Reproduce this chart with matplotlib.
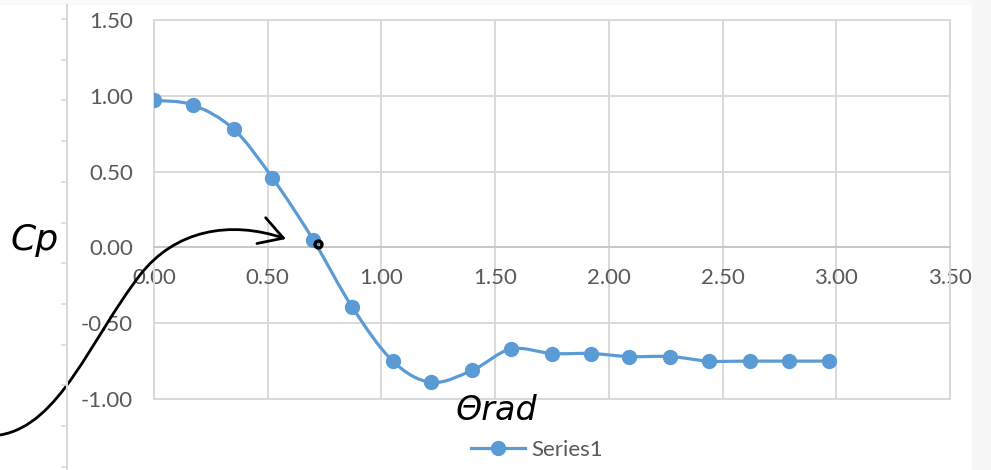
import numpy as np
import matplotlib
matplotlib.use("Agg")
import matplotlib.pyplot as plt
from matplotlib.path import Path
from matplotlib.patches import FancyArrowPatch, Rectangle, PathPatch

# -----------------------------
# Dados
# -----------------------------
theta = [0.00, 0.17, 0.35, 0.52, 0.70, 0.87, 1.05, 1.22, 1.40,
         1.57, 1.75, 1.92, 2.09, 2.27, 2.44, 2.62, 2.79, 2.97]
cp = [0.97, 0.94, 0.78, 0.46, 0.05, -0.39, -0.75, -0.89, -0.81,
      -0.67, -0.70, -0.70, -0.72, -0.72, -0.75, -0.75, -0.75, -0.75]
x_ticks = [0.0, 0.5, 1.0, 1.5, 2.0, 2.5, 3.0, 3.5]
y_ticks = [-1.0, -0.5, 0.0, 0.5, 1.0, 1.5]
series_name = "Series1"

BLUE = "#5b9bd5"
GRID = "#d9d9d9"
TXT = "#595959"


def smooth_path(xs, ys):
    # curva suavizada estilo Excel (Bezier cúbica tipo Catmull-Rom)
    p = np.column_stack([xs, ys]).astype(float)
    n = len(p)
    verts = [p[0]]
    codes = [Path.MOVETO]
    for i in range(n - 1):
        p0 = p[max(i - 1, 0)]
        p1 = p[i]
        p2 = p[i + 1]
        p3 = p[min(i + 2, n - 1)]
        c1 = p1 + (p2 - p0) / 6.0
        c2 = p2 - (p3 - p1) / 6.0
        verts += [c1, c2, p2]
        codes += [Path.CURVE4] * 3
    return Path(verts, codes)


plt.rcParams["font.family"] = ["Lato", "DejaVu Sans"]

fig = plt.figure(figsize=(9.91, 4.70), dpi=100)
fig.patch.set_facecolor("white")

ax = fig.add_axes([154 / 991, 71 / 470, 796 / 991, 379 / 470])
ax.set_xlim(0, 3.5)
ax.set_ylim(-1.0, 1.5)
ax.set_xticks(x_ticks)
ax.set_yticks(y_ticks)
ax.set_xticklabels([f"{v:.2f}" for v in x_ticks])
ax.set_yticklabels([f"{v:.2f}" for v in y_ticks])
ax.grid(True, color=GRID, lw=1.4)
ax.set_axisbelow(True)

for s in ["top", "left", "right"]:
    ax.spines[s].set_color(GRID)
    ax.spines[s].set_linewidth(1.4)
ax.spines["bottom"].set_position(("data", 0))
ax.spines["bottom"].set_color("#c8c8c8")
ax.spines["bottom"].set_linewidth(1.4)
ax.axhline(-1.0, color=GRID, lw=1.4, clip_on=False)

ax.tick_params(axis="both", length=0, labelsize=16, labelcolor=TXT)
ax.tick_params(axis="x", pad=15)
ax.tick_params(axis="y", pad=15)

# linha suavizada + marcadores
ax.add_patch(PathPatch(smooth_path(theta, cp), fill=False, ec=BLUE, lw=2.3,
                       zorder=3, capstyle="round"))
ax.plot(theta, cp, "o", color=BLUE, ms=10, zorder=4)

# legenda
ax.plot([], [], "-o", color=BLUE, lw=2.3, ms=10, label=series_name)
fig.legend(loc="center", bbox_to_anchor=(537 / 991, 1 - 450 / 470),
           frameon=False, fontsize=16, labelcolor=TXT, handlelength=2.4,
           handletextpad=0.3, borderpad=0)

# -----------------------------
# Anotações à mão (camada em pixels)
# -----------------------------
ov = fig.add_axes([0, 0, 1, 1], zorder=10)
ov.set_xlim(0, 991)
ov.set_ylim(470, 0)
ov.axis("off")
ov.patch.set_alpha(0)

# faixas cinza claras nas bordas
ov.add_patch(Rectangle((972, 0), 19, 470, fc="#f7f7f7", ec="none", zorder=0))
ov.add_patch(Rectangle((0, 0), 972, 5, fc="#f9f9f9", ec="none", zorder=0))

# régua à esquerda
ov.plot([67, 67], [5, 470], color=GRID, lw=1.5)
for yy in np.arange(19, 470, 40.7):
    ov.plot([62, 67], [yy, yy], color=GRID, lw=1.2)

ov.text(10, 240, "Cp", fontsize=26, fontstyle="italic", family="DejaVu Sans",
        color="black", va="center", ha="left")
ov.text(455, 410, "Θrad", fontsize=24, fontstyle="italic", family="DejaVu Sans",
        color="black", va="center", ha="left")

seta = Path([(0, 435), (60, 425), (90, 340), (140, 275),
             (175, 230), (230, 220), (286, 239)],
            [Path.MOVETO, Path.CURVE4, Path.CURVE4, Path.CURVE4,
             Path.CURVE4, Path.CURVE4, Path.CURVE4])
ov.add_patch(FancyArrowPatch(path=seta, arrowstyle="->,head_length=0.6,head_width=0.35",
                             mutation_scale=28, color="black", lw=2))
ov.plot(318, 244, "o", mfc="none", mec="black", mew=2.4, ms=5)

fig.savefig("out.png", dpi=100)
